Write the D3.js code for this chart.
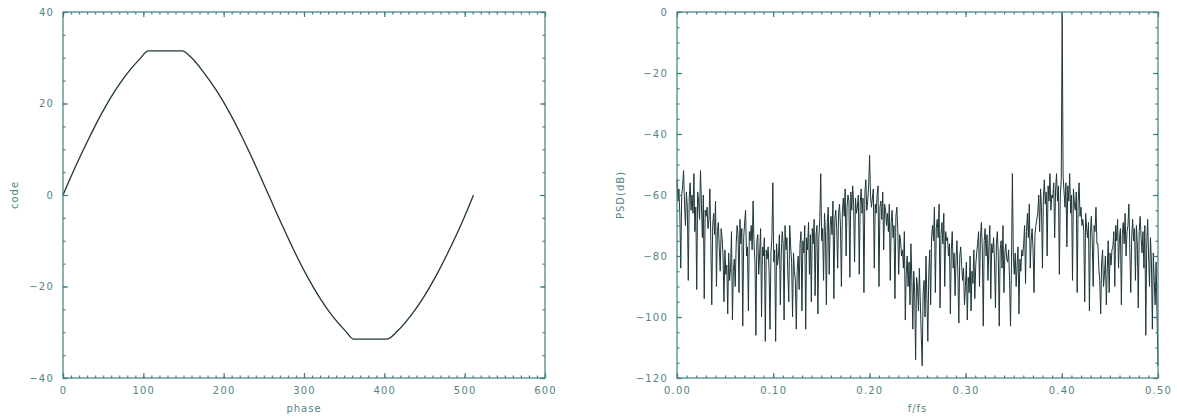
<!DOCTYPE html>
<html><head><meta charset="utf-8">
<script src="https://cdn.jsdelivr.net/npm/d3@7"></script>
<style>
body{margin:0;background:#fff;}
svg text{font-family:"DejaVu Sans",sans-serif;fill:#4f8585;}
</style></head>
<body><svg id="c" width="1177" height="419"></svg>
<script>
// ---- Left panel data (phase vs code) ----
const phase = [0,16,32,48,64,80,96,106,128,148,160,176,192,208,224,240,256,272,288,304,320,336,352,362,384,403,416,432,448,464,480,496,511];
const code  = [0,6.4,12.3,17.8,22.6,26.6,29.8,31.5,31.5,31.5,30.0,26.6,22.6,17.8,12.3,6.3,0,-6.3,-12.3,-17.8,-22.6,-26.6,-29.8,-31.5,-31.5,-31.5,-29.8,-26.6,-22.6,-17.8,-12.3,-6.3,0];
const leftXTicks = [0,100,200,300,400,500,600];
const leftYTicks = [-40,-20,0,20,40];

// ---- Right panel data (PSD in dB, bins 0..512 of a 1024-point FFT) ----
const psd = [
-55,-62,-58,-66,-84,-60,-57,-52,-63,-70,-59,-64,-88,-61,-56,-65,
-60,-66,-53,-72,-64,-91,-59,-62,-68,-52,-63,-74,-60,-94,-65,-67,
-64,-71,-68,-58,-75,-96,-70,-66,-73,-62,-90,-72,-69,-77,-85,-71,
-74,-80,-95,-78,-86,-83,-99,-79,-88,-84,-72,-101,-85,-81,-90,-76,
-70,-73,-92,-68,-76,-71,-103,-74,-69,-65,-80,-77,-98,-72,-75,-70,
-78,-62,-76,-82,-106,-75,-73,-86,-79,-71,-100,-77,-80,-74,-108,-78,
-81,-77,-85,-104,-79,-74,-56,-82,-78,-108,-76,-83,-80,-73,-96,-79,
-72,-76,-101,-70,-78,-74,-86,-95,-70,-77,-82,-100,-79,-85,-88,-104,
-84,-80,-91,-76,-72,-98,-75,-79,-70,-104,-74,-78,-69,-86,-73,-95,
-71,-76,-68,-93,-73,-70,-99,-74,-68,-53,-75,-71,-88,-66,-72,-96,
-69,-64,-86,-70,-67,-73,-62,-94,-68,-65,-71,-84,-66,-63,-70,-90,
-66,-61,-67,-58,-80,-64,-60,-62,-87,-59,-65,-57,-63,-82,-61,-66,
-64,-60,-86,-63,-58,-66,-61,-92,-59,-55,-65,-62,-57,-47,-60,-64,
-61,-58,-84,-63,-66,-60,-57,-90,-64,-62,-68,-59,-78,-63,-65,-70,
-66,-72,-63,-88,-69,-65,-74,-70,-94,-67,-64,-71,-86,-73,-75,-80,
-78,-84,-72,-101,-86,-80,-90,-82,-96,-76,-88,-104,-85,-92,-114,-87,
-90,-98,-84,-95,-106,-116,-92,-88,-100,-80,-94,-108,-86,-78,-96,-74,
-70,-75,-64,-92,-71,-68,-74,-63,-97,-73,-69,-76,-66,-90,-72,-75,
-74,-80,-76,-99,-78,-72,-84,-79,-93,-81,-75,-86,-102,-80,-77,-83,
-88,-84,-96,-90,-82,-101,-87,-92,-80,-98,-85,-89,-78,-94,-83,-79,
-76,-72,-90,-74,-69,-78,-103,-75,-71,-80,-73,-88,-77,-70,-94,-76,
-79,-74,-82,-97,-76,-72,-80,-103,-78,-75,-84,-70,-92,-79,-76,-81,
-82,-78,-88,-103,-84,-53,-80,-86,-79,-90,-83,-77,-99,-81,-85,-78,
-80,-76,-70,-89,-72,-66,-74,-63,-84,-75,-71,-78,-92,-73,-70,-68,
-66,-60,-72,-58,-64,-84,-61,-55,-63,-59,-80,-57,-62,-53,-65,-60,
-61,-56,-74,-58,-53,-62,-57,-86,-60,-55,0,-54,-59,-64,-56,-77,
-57,-62,-53,-66,-60,-88,-58,-63,-65,-59,-92,-62,-56,-67,-64,-70,
-68,-72,-95,-66,-71,-74,-69,-98,-73,-67,-75,-90,-70,-72,-64,-76,
-76,-84,-88,-99,-82,-78,-90,-86,-80,-96,-84,-75,-92,-79,-83,-78,
-77,-72,-90,-70,-75,-68,-84,-74,-71,-96,-73,-69,-76,-66,-80,-72,
-70,-63,-78,-92,-74,-68,-75,-71,-88,-70,-76,-97,-72,-67,-74,-79,
-72,-84,-70,-106,-76,-68,-80,-90,-74,-82,-104,-79,-88,-96,-82,-100,
-116];
const nfft = 1024;
const rightXTicks = [0,0.1,0.2,0.3,0.4,0.5];
const rightYTicks = [-120,-100,-80,-60,-40,-20,0];

const svg = d3.select("#c");
const frameColor = "#3f7f7f";
const lineColor = "#1e3636";

function panel(o){
  const x = d3.scaleLinear().domain(o.xd).range([o.x0,o.x1]);
  const y = d3.scaleLinear().domain(o.yd).range([o.y1,o.y0]);
  const g = svg.append("g");
  g.append("path").datum(o.data)
    .attr("fill","none").attr("stroke",lineColor).attr("stroke-width",o.sw)
    .attr("d", d3.line().x(d=>x(d[0])).y(d=>y(d[1])).curve(o.curve||d3.curveLinear));
  g.append("rect").attr("x",o.x0).attr("y",o.y0).attr("width",o.x1-o.x0).attr("height",o.y1-o.y0)
    .attr("fill","none").attr("stroke",frameColor).attr("stroke-width",1.2);
  const bottom = d3.axisBottom(x).tickValues(o.xt).tickSize(-5).tickFormat(o.fmtX).tickPadding(9);
  const top = d3.axisTop(x).tickValues(o.xt).tickSize(-5).tickFormat("");
  const left = d3.axisLeft(y).tickValues(o.yt).tickSize(-5).tickFormat(o.fmtY).tickPadding(9);
  const right = d3.axisRight(y).tickValues(o.yt).tickSize(-5).tickFormat("");
  const minX = d3.range(o.xd[0], o.xd[1]+o.xm/2, o.xm);
  const minY = d3.range(o.yd[0], o.yd[1]+o.ym/2, o.ym);
  const bm = d3.axisBottom(x).tickValues(minX).tickSize(-2.5).tickFormat("");
  const tm = d3.axisTop(x).tickValues(minX).tickSize(-2.5).tickFormat("");
  const lm = d3.axisLeft(y).tickValues(minY).tickSize(-2.5).tickFormat("");
  const rm = d3.axisRight(y).tickValues(minY).tickSize(-2.5).tickFormat("");
  const add = (ax, tr) => {
    const a = g.append("g").attr("transform",tr).call(ax);
    a.select(".domain").remove();
    a.selectAll("line").attr("stroke",frameColor).attr("stroke-width",1.2);
    a.selectAll("text").attr("fill","#4f8585").style("font-size","10px").style("letter-spacing","1.2px");
    return a;
  };
  add(bottom,`translate(0,${o.y1})`); add(top,`translate(0,${o.y0})`);
  add(left,`translate(${o.x0},0)`); add(right,`translate(${o.x1},0)`);
  add(bm,`translate(0,${o.y1})`); add(tm,`translate(0,${o.y0})`);
  add(lm,`translate(${o.x0},0)`); add(rm,`translate(${o.x1},0)`);
  g.append("text").attr("x",(o.x0+o.x1)/2).attr("y",412).attr("text-anchor","middle")
    .style("font-size","10px").style("letter-spacing","1px").text(o.xlabel);
  g.append("text").attr("transform",`translate(${o.ylx},${(o.y0+o.y1)/2}) rotate(-90)`)
    .attr("text-anchor","middle").style("font-size","10px").style("letter-spacing","1px").text(o.ylabel);
}

const minus = s => s.replace("-","\u2212");
panel({
  x0:63,x1:545,y0:12,y1:378,xd:[0,600],yd:[-40,40],
  xt:leftXTicks,yt:leftYTicks,xm:10,ym:5,
  data: phase.map((p,i)=>[p,code[i]]),
  curve: d3.curveMonotoneX, sw:1.3,
  fmtX: d=>String(d), fmtY: d=>minus(String(d)),
  xlabel:"phase", ylabel:"code", ylx:18
});
panel({
  x0:677,x1:1158,y0:12,y1:378,xd:[0,0.5],yd:[-120,0],
  xt:rightXTicks,yt:rightYTicks,xm:0.01,ym:5,
  data: psd.map((v,i)=>[i/nfft,v]),
  sw:1,
  fmtX: d=>d3.format(".2f")(d), fmtY: d=>minus(String(d)),
  xlabel:"f/fs", ylabel:"PSD(dB)", ylx:624
});
</script></body></html>
